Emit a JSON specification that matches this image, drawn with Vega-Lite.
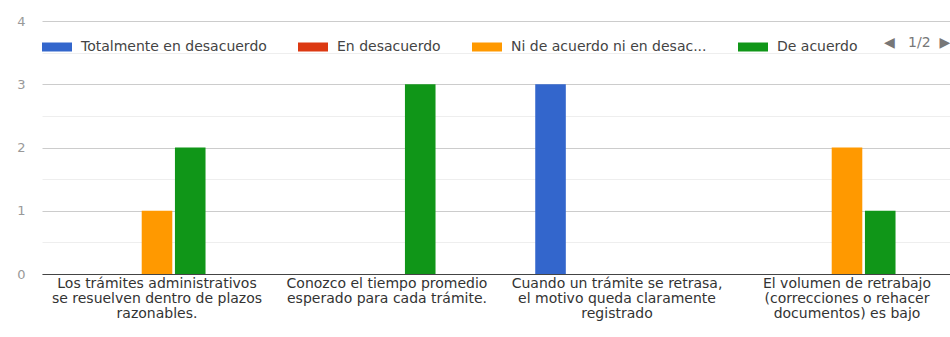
{
  "$schema": "https://vega.github.io/schema/vega-lite/v6.json",
  "autosize": {"type": "none"},
  "padding": {"left": 40, "top": 21, "right": 0, "bottom": 63},
  "width": 910,
  "height": 253,
  "background": "white",
  "data": {
    "values": [
      {"pregunta": "Los trámites administrativos se resuelven dentro de plazos razonables.", "respuesta": "Totalmente en desacuerdo", "n": 0},
      {"pregunta": "Los trámites administrativos se resuelven dentro de plazos razonables.", "respuesta": "En desacuerdo", "n": 0},
      {"pregunta": "Los trámites administrativos se resuelven dentro de plazos razonables.", "respuesta": "Ni de acuerdo ni en desacuerdo", "n": 1},
      {"pregunta": "Los trámites administrativos se resuelven dentro de plazos razonables.", "respuesta": "De acuerdo", "n": 2},
      {"pregunta": "Los trámites administrativos se resuelven dentro de plazos razonables.", "respuesta": "Totalmente de acuerdo", "n": 0},
      {"pregunta": "Conozco el tiempo promedio esperado para cada trámite.", "respuesta": "Totalmente en desacuerdo", "n": 0},
      {"pregunta": "Conozco el tiempo promedio esperado para cada trámite.", "respuesta": "En desacuerdo", "n": 0},
      {"pregunta": "Conozco el tiempo promedio esperado para cada trámite.", "respuesta": "Ni de acuerdo ni en desacuerdo", "n": 0},
      {"pregunta": "Conozco el tiempo promedio esperado para cada trámite.", "respuesta": "De acuerdo", "n": 3},
      {"pregunta": "Conozco el tiempo promedio esperado para cada trámite.", "respuesta": "Totalmente de acuerdo", "n": 0},
      {"pregunta": "Cuando un trámite se retrasa, el motivo queda claramente registrado", "respuesta": "Totalmente en desacuerdo", "n": 3},
      {"pregunta": "Cuando un trámite se retrasa, el motivo queda claramente registrado", "respuesta": "En desacuerdo", "n": 0},
      {"pregunta": "Cuando un trámite se retrasa, el motivo queda claramente registrado", "respuesta": "Ni de acuerdo ni en desacuerdo", "n": 0},
      {"pregunta": "Cuando un trámite se retrasa, el motivo queda claramente registrado", "respuesta": "De acuerdo", "n": 0},
      {"pregunta": "Cuando un trámite se retrasa, el motivo queda claramente registrado", "respuesta": "Totalmente de acuerdo", "n": 0},
      {"pregunta": "El volumen de retrabajo (correcciones o rehacer documentos) es bajo", "respuesta": "Totalmente en desacuerdo", "n": 0},
      {"pregunta": "El volumen de retrabajo (correcciones o rehacer documentos) es bajo", "respuesta": "En desacuerdo", "n": 0},
      {"pregunta": "El volumen de retrabajo (correcciones o rehacer documentos) es bajo", "respuesta": "Ni de acuerdo ni en desacuerdo", "n": 2},
      {"pregunta": "El volumen de retrabajo (correcciones o rehacer documentos) es bajo", "respuesta": "De acuerdo", "n": 1},
      {"pregunta": "El volumen de retrabajo (correcciones o rehacer documentos) es bajo", "respuesta": "Totalmente de acuerdo", "n": 0}
    ]
  },
  "mark": {"type": "bar"},
  "encoding": {
    "x": {
      "field": "pregunta",
      "type": "nominal",
      "sort": null,
      "scale": {"range": [2, 922], "paddingInner": 0, "paddingOuter": 0},
      "axis": {
        "title": null,
        "ticks": false,
        "domainColor": "#444",
        "domainWidth": 1,
        "labelAngle": 0,
        "labelFont": "DejaVu Sans",
        "labelFontSize": 14,
        "labelColor": "#333",
        "labelLimit": 0,
        "labelOverlap": false,
        "labelPadding": 2,
        "labelLineHeight": 15,
        "labelAlign": "center",
        "labelBaseline": "top",
        "labelExpr": "datum.value == 'Los trámites administrativos se resuelven dentro de plazos razonables.' ? ['Los trámites administrativos', 'se resuelven dentro de plazos', 'razonables.'] : datum.value == 'Conozco el tiempo promedio esperado para cada trámite.' ? ['Conozco el tiempo promedio', 'esperado para cada trámite.'] : datum.value == 'Cuando un trámite se retrasa, el motivo queda claramente registrado' ? ['Cuando un trámite se retrasa,', 'el motivo queda claramente', 'registrado'] : ['El volumen de retrabajo', '(correcciones o rehacer', 'documentos) es bajo']"
      }
    },
    "xOffset": {
      "field": "respuesta",
      "type": "nominal",
      "sort": ["Totalmente en desacuerdo", "En desacuerdo", "Ni de acuerdo ni en desacuerdo", "De acuerdo", "Totalmente de acuerdo"],
      "scale": {"paddingInner": 0.08, "paddingOuter": 1.58}
    },
    "y": {
      "field": "n",
      "type": "quantitative",
      "scale": {"domain": [0, 4], "nice": false},
      "axis": {
        "title": null,
        "domain": false,
        "ticks": false,
        "values": [0, 0.5, 1, 1.5, 2, 2.5, 3, 3.5, 4],
        "labelExpr": "datum.value % 1 === 0 ? format(datum.value, 'd') : ''",
        "labelFont": "DejaVu Sans",
        "labelFontSize": 13,
        "labelColor": "#999",
        "labelPadding": 15,
        "gridColor": {"condition": {"test": "datum.value % 1 === 0", "value": "#cccccc"}, "value": "#eeeeee"},
        "gridWidth": 1
      }
    },
    "color": {
      "field": "respuesta",
      "type": "nominal",
      "scale": {
        "domain": ["Totalmente en desacuerdo", "En desacuerdo", "Ni de acuerdo ni en desacuerdo", "De acuerdo", "Totalmente de acuerdo"],
        "range": ["#3366cc", "#dc3912", "#ff9900", "#109618", "#990099"]
      },
      "legend": {
        "orient": "none",
        "legendX": 2,
        "legendY": 11,
        "direction": "horizontal",
        "values": ["Totalmente en desacuerdo", "En desacuerdo", "Ni de acuerdo ni en desacuerdo", "De acuerdo"],
        "symbolType": "M-1,-0.3H1V0.3H-1Z",
        "symbolSize": 900,
        "symbolStrokeWidth": 0,
        "symbolOpacity": 1,
        "labelFont": "DejaVu Sans",
        "labelFontSize": 14,
        "labelColor": "#444",
        "labelLimit": 0,
        "labelOffset": 9,
        "columnPadding": 31,
        "labelExpr": "datum.label == 'Ni de acuerdo ni en desacuerdo' ? 'Ni de acuerdo ni en desac...' : datum.label",
        "title": "◀\u00a0\u00a0\u00a01/2\u00a0\u00a0▶",
        "titleOrient": "right",
        "titleFont": "DejaVu Sans",
        "titleFontSize": 14,
        "titleFontWeight": "normal",
        "titleColor": "#777",
        "titlePadding": 26
      }
    }
  },
  "config": {"view": {"stroke": null}}
}
